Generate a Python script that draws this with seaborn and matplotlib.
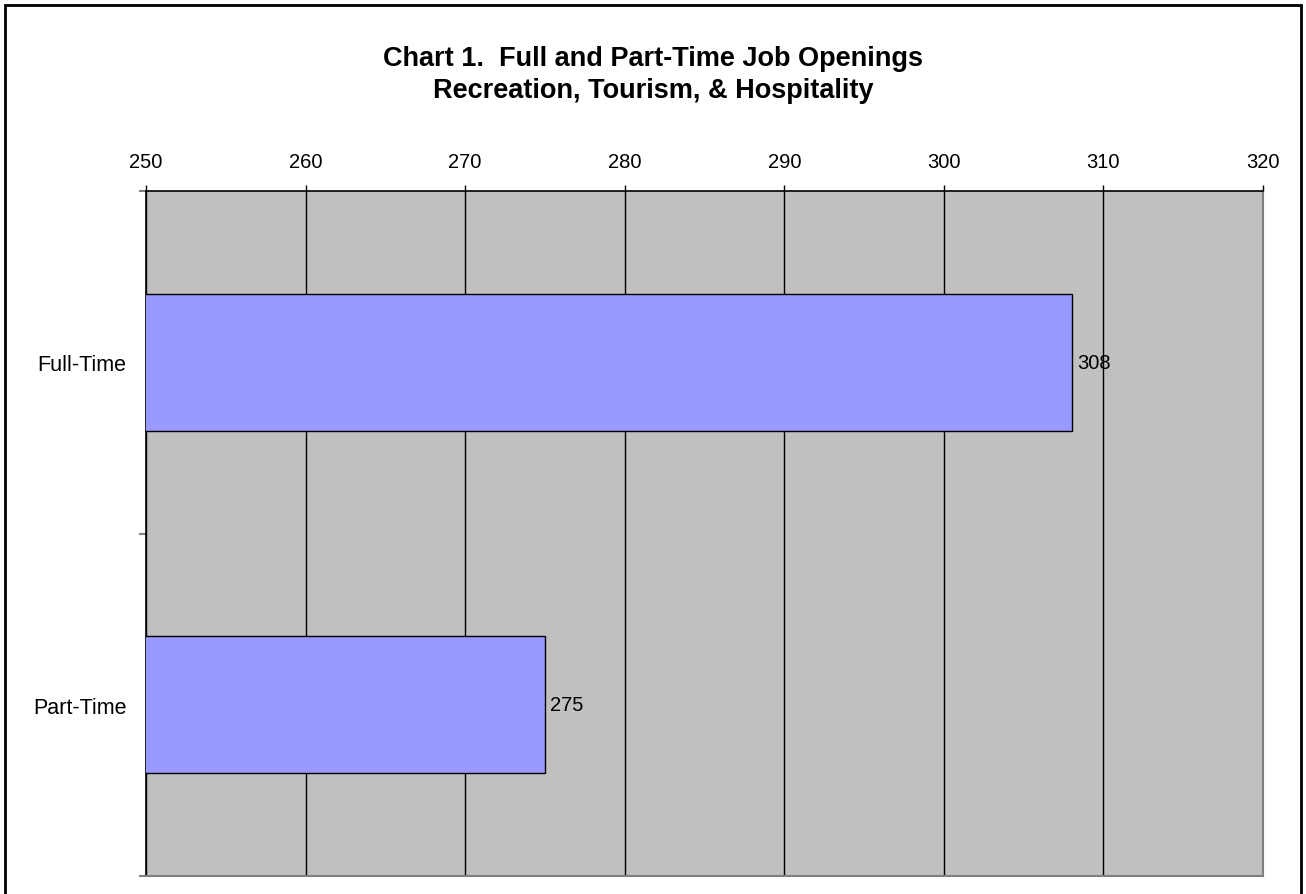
import matplotlib
matplotlib.use("Agg")
import matplotlib.pyplot as plt
import seaborn as sns
import pandas as pd
from matplotlib.patches import Rectangle

categories = ["Full-Time", "Part-Time"]
values = [308, 275]
x_ticks = [250, 260, 270, 280, 290, 300, 310, 320]
title_line1 = "Chart 1.  Full and Part-Time Job Openings"
title_line2 = "Recreation, Tourism, & Hospitality"

sns.set_theme(style="white")
plt.rcParams["font.family"] = ["Liberation Sans", "DejaVu Sans"]

W, H = 1306, 895
fig = plt.figure(figsize=(W / 100, H / 100), dpi=100)
fig.patch.set_facecolor("white")

left, right, top, bottom = 146, 1263, 192, 877
ax = fig.add_axes([left / W, 1 - bottom / H, (right - left) / W, (bottom - top) / H])
ax.set_facecolor("#C0C0C0")

df = pd.DataFrame({"category": categories, "value": values})
sns.barplot(data=df, y="category", x="value", orient="h", color="#9999FF",
            saturation=1, width=0.4, edgecolor="black", linewidth=1.0, ax=ax, zorder=3)

ax.set_xlim(x_ticks[0], x_ticks[-1])
ax.set_ylim(1.5, -0.5)
ax.set_xticks(x_ticks)
ax.set_xticklabels([str(t) for t in x_ticks])
ax.xaxis.tick_top()
ax.tick_params(axis="x", which="major", direction="out", length=4.5, width=1,
               color="black", labelsize=14.5, pad=10, labelcolor="black")
ax.set_yticks(range(len(categories)))
ax.set_yticklabels(categories)
ax.set_yticks([-0.5, 0.5, 1.5], minor=True)
ax.tick_params(axis="y", which="major", length=0, labelsize=15.5, pad=14, labelcolor="black")
ax.tick_params(axis="y", which="minor", length=5, width=1.5, color="#808080", left=True)
ax.set_xlabel("")
ax.set_ylabel("")

ax.grid(True, axis="x", color="black", linewidth=1, zorder=1)
ax.set_axisbelow(True)
for b in ax.patches:
    b.set_zorder(3)

for side in ["left", "top"]:
    ax.spines[side].set_visible(True)
    ax.spines[side].set_color("black")
    ax.spines[side].set_linewidth(1.2)
for side in ["right", "bottom"]:
    ax.spines[side].set_visible(True)
    ax.spines[side].set_color("#808080")
    ax.spines[side].set_linewidth(1.5)

for c in ax.containers:
    ax.bar_label(c, labels=[str(v) for v in values], padding=4, fontsize=14.5, color="black")

fig.text(0.5, 1 - 66 / H, title_line1, ha="center", va="baseline",
         fontsize=19.5, fontweight="bold", color="black")
fig.text(0.5, 1 - 98 / H, title_line2, ha="center", va="baseline",
         fontsize=19.5, fontweight="bold", color="black")

border = Rectangle((5 / W, -0.05), (1301 - 5) / W, 1 - 6 / H + 0.05,
                   transform=fig.transFigure, fill=False, edgecolor="black",
                   linewidth=2, clip_on=False)
fig.patches.append(border)

fig.savefig("out.png", dpi=100)
